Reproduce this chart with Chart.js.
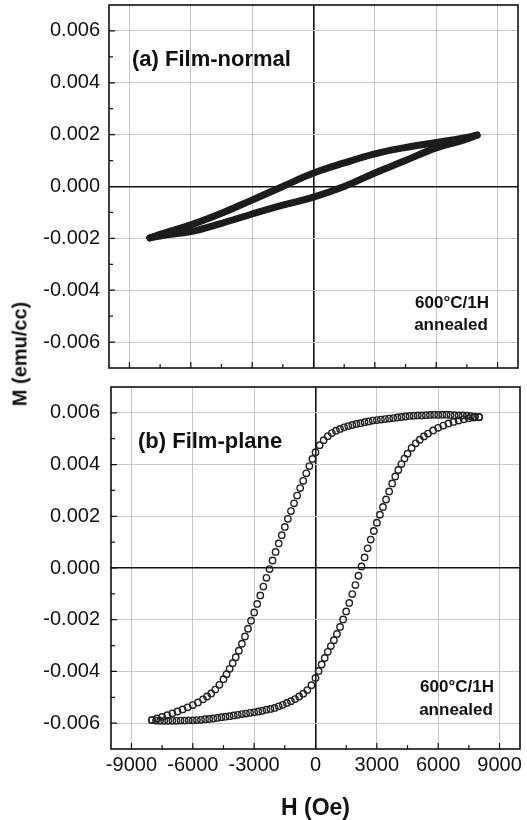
<!DOCTYPE html>
<html>
<head>
<meta charset="utf-8">
<script src="https://cdn.jsdelivr.net/npm/chart.js@4.4.0/dist/chart.umd.min.js"></script>
<style>
  body { margin: 0; background: #fff; }
  #wrap { position: relative; width: 527px; height: 820px; overflow: hidden; }
  .panel { position: absolute; left: 0; }
  #ytitle {
    position: absolute; left: 20px; top: 354px;
    transform: translate(-50%, -50%) rotate(-90deg);
    font: bold 20px 'Liberation Sans', Arial, sans-serif; color: #111; white-space: nowrap;
  }
</style>
</head>
<body>
<div id="wrap">
  <canvas id="normal" class="panel" style="top:0" width="527" height="380"></canvas>
  <canvas id="plane" class="panel" style="top:380px" width="527" height="440"></canvas>
  <div id="ytitle">M (emu/cc)</div>
</div>
<script>
// tick labels
var xTicks = [-9000, -6000, -3000, 0, 3000, 6000, 9000];
var yTicks = [-0.006, -0.004, -0.002, 0, 0.002, 0.004, 0.006];

// (a) film-normal loop, field going down then coming back up
var normDownH = [8000, 7300, 6000, 4400, 3000, 1500, 0, -1500, -3000, -4500, -6000, -7300, -8000];
var normDownM = [0.00198, 0.00186, 0.0017, 0.00149, 0.00126, 0.00091, 0.00052, 0.0, -0.00052, -0.00103, -0.00148, -0.0018, -0.00198];
var normUpH = [-8000, -7300, -6000, -4500, -3000, -1500, 0, 1500, 3000, 4400, 6000, 7300, 8000];
var normUpM = [-0.00198, -0.00188, -0.00174, -0.00142, -0.00106, -0.00072, -0.00041, 0.0, 0.00052, 0.00097, 0.00149, 0.00178, 0.00198];

// (b) film-plane loop
var planeDownH = [8000, 7800, 7600, 7400, 7200, 7000, 6800, 6600, 6400, 6200, 6000, 5800, 5600, 5400, 5200, 5000, 4800, 4600, 4400, 4200,
  4000, 3800, 3600, 3400, 3200, 3000, 2800, 2600, 2400, 2200, 2000, 1800, 1600, 1400, 1200, 1000, 800, 600, 400, 200, 0,
  -150, -300, -450, -600, -750, -900, -1050, -1200, -1350, -1500, -1650, -1800, -1950, -2100, -2250, -2400, -2550, -2700, -2850, -3000,
  -3150, -3300, -3450, -3600, -3750, -3900, -4050, -4200, -4350, -4500, -4700, -4900, -5100, -5300, -5500,
  -5750, -6000, -6250, -6500, -6750, -7000, -7250, -7500, -7750, -8000];
var planeDownM = [0.00583, 0.00585, 0.00587, 0.00589, 0.0059, 0.0059, 0.00591, 0.00592, 0.00593, 0.00593, 0.00592, 0.00593, 0.00592, 0.00591, 0.0059, 0.0059, 0.00589, 0.00588, 0.00586, 0.00584,
  0.00582, 0.0058, 0.00578, 0.00576, 0.00574, 0.00572, 0.0057, 0.00567, 0.00564, 0.0056, 0.00557, 0.00553, 0.00549, 0.00544, 0.00538, 0.00531, 0.00522, 0.0051, 0.00494, 0.00475, 0.00448,
  0.00422, 0.00394, 0.00366, 0.00337, 0.00309, 0.0028, 0.0025, 0.0022, 0.0019, 0.00159, 0.00127, 0.00095, 0.00062, 0.00029, -0.00004, -0.00038, -0.00072, -0.00106, -0.00139, -0.00172,
  -0.00204, -0.00235, -0.00265, -0.00293, -0.0032, -0.00345, -0.00368, -0.0039, -0.00411, -0.0043, -0.00452, -0.0047, -0.00485, -0.00497, -0.00508,
  -0.0052, -0.0053, -0.00539, -0.00547, -0.00555, -0.00562, -0.00569, -0.00576, -0.00582, -0.00588];
var planeUpH = [-8000, -7800, -7600, -7400, -7200, -7000, -6800, -6600, -6400, -6200, -6000, -5800, -5600, -5400, -5200, -5000, -4800, -4600, -4400, -4200,
  -4000, -3800, -3600, -3400, -3200, -3000, -2800, -2600, -2400, -2200, -2000, -1800, -1600, -1400, -1200, -1000, -800, -600, -400, -200, 0,
  150, 300, 450, 600, 750, 900, 1050, 1200, 1350, 1500, 1650, 1800, 1950, 2100, 2250, 2400, 2550, 2700, 2850, 3000,
  3150, 3300, 3450, 3600, 3750, 3900, 4050, 4200, 4350, 4500, 4700, 4900, 5100, 5300, 5500,
  5750, 6000, 6250, 6500, 6750, 7000, 7250, 7500, 7750, 8000];
var planeUpM = [-0.00588, -0.0059, -0.00591, -0.00591, -0.00591, -0.00591, -0.00591, -0.0059, -0.0059, -0.00589, -0.00589, -0.00588, -0.00587, -0.00585, -0.00584, -0.00582, -0.0058, -0.00577, -0.00575, -0.00573,
  -0.0057, -0.00568, -0.00565, -0.00563, -0.0056, -0.00558, -0.00555, -0.00552, -0.00548, -0.00545, -0.00541, -0.00535, -0.00529, -0.00522, -0.00515, -0.00507, -0.00497, -0.00486, -0.00472, -0.00453, -0.00425,
  -0.00398, -0.00373, -0.00348, -0.00324, -0.00302, -0.00279, -0.00255, -0.00228, -0.00199, -0.00168, -0.00135, -0.00101, -0.00066, -0.0003, 0.00006, 0.00041, 0.00076, 0.0011, 0.00143, 0.00175,
  0.00206, 0.00236, 0.00265, 0.00296, 0.00327, 0.00354, 0.00379, 0.00402, 0.00423, 0.00442, 0.00464, 0.00482, 0.00496, 0.00509, 0.0052,
  0.00532, 0.00542, 0.00551, 0.00559, 0.00565, 0.0057, 0.00575, 0.00579, 0.00582, 0.00584];

var FONT = "'Liberation Sans', Arial, sans-serif";
Chart.defaults.font.family = FONT;
Chart.defaults.color = '#111';

function pts(hs, ms) {
  return hs.map(function(h, i) { return { x: h, y: ms[i] }; });
}

function isZero(ctx) {
  return ctx.tick && Math.abs(ctx.tick.value) < 1e-9;
}

// frame, inward minor/major ticks and panel captions
var panelDeco = {
  id: 'panelDeco',
  afterDraw: function(chart, args, opts) {
    var ctx = chart.ctx, a = chart.chartArea;
    var xs = chart.scales.x, ys = chart.scales.y;
    ctx.save();
    ctx.strokeStyle = '#111';
    ctx.lineWidth = 1.6;
    ctx.strokeRect(a.left, a.top, a.right - a.left, a.bottom - a.top);

    ctx.lineWidth = 1.2;
    ctx.beginPath();
    xTicks.forEach(function(v, i) {
      var px = xs.getPixelForValue(v);
      ctx.moveTo(px, a.bottom); ctx.lineTo(px, a.bottom - 6);
      if (i > 0) {
        var m = xs.getPixelForValue((v + xTicks[i - 1]) / 2);
        ctx.moveTo(m, a.bottom); ctx.lineTo(m, a.bottom - 4);
      }
    });
    yTicks.forEach(function(v, i) {
      var py = ys.getPixelForValue(v);
      ctx.moveTo(a.left, py); ctx.lineTo(a.left + 6, py);
      if (i > 0) {
        var m = ys.getPixelForValue((v + yTicks[i - 1]) / 2);
        ctx.moveTo(a.left, m); ctx.lineTo(a.left + 4, m);
      }
    });
    ctx.stroke();

    ctx.fillStyle = '#111';
    ctx.textBaseline = 'middle';
    (opts.texts || []).forEach(function(t) {
      ctx.font = t.font;
      ctx.textAlign = t.align;
      ctx.fillText(t.text, a.left + t.dx, a.top + t.dy);
    });
    ctx.restore();
  }
};

function gridOpts() {
  return {
    color: function(ctx) { return isZero(ctx) ? '#111' : '#c8c8c8'; },
    lineWidth: function(ctx) { return isZero(ctx) ? 1.6 : 1; },
    drawTicks: false
  };
}

function noOverhang(s) {
  s.paddingTop = 0; s.paddingBottom = 0; s.paddingLeft = 0; s.paddingRight = 0;
}

function makePanel(id, sets, cfg) {
  return new Chart(document.getElementById(id), {
    type: 'scatter',
    data: { datasets: sets },
    options: {
      responsive: false,
      animation: false,
      layout: { padding: cfg.padding },
      plugins: {
        legend: { display: false },
        tooltip: { enabled: false },
        panelDeco: { texts: cfg.texts }
      },
      scales: {
        x: {
          type: 'linear', min: -10000, max: 10000,
          afterBuildTicks: function(s) { s.ticks = xTicks.map(function(v) { return { value: v }; }); },
          ticks: {
            display: cfg.xLabels,
            font: { size: 20 }, padding: 4, color: '#111',
            callback: function(v) { return String(v); }
          },
          grid: gridOpts(),
          border: { display: false },
          title: {
            display: cfg.xLabels, text: 'H (Oe)', color: '#111',
            font: { size: 23, weight: 'bold', lineHeight: 1 }, padding: 0
          },
          afterFit: function(s) { s.height = cfg.xHeight; noOverhang(s); }
        },
        y: {
          type: 'linear', min: -0.007, max: 0.007,
          afterBuildTicks: function(s) { s.ticks = yTicks.map(function(v) { return { value: v }; }); },
          ticks: {
            font: { size: 20 }, padding: cfg.yPad, color: '#111',
            callback: function(v) { return (Math.abs(v) < 1e-9 ? 0 : v).toFixed(3); }
          },
          grid: gridOpts(),
          border: { display: false },
          afterFit: function(s) { s.width = cfg.yWidth; noOverhang(s); }
        }
      }
    },
    plugins: [panelDeco]
  });
}

var thick = { showLine: true, borderColor: '#1c1c1c', borderWidth: 7, pointRadius: 0, tension: 0.4, borderCapStyle: 'round' };
var rings = { showLine: false, pointRadius: 3.2, pointBorderWidth: 1.4, pointBorderColor: '#222', pointBackgroundColor: 'rgba(0,0,0,0)' };

makePanel('normal', [
  Object.assign({ data: pts(normDownH, normDownM) }, thick),
  Object.assign({ data: pts(normUpH, normUpM) }, thick)
], {
  padding: { top: 5, right: 9, bottom: 12, left: 0 },
  xLabels: false, xHeight: 0, yWidth: 109, yPad: 9,
  texts: [
    { text: '(a) Film-normal', dx: 23, dy: 55, align: 'left', font: 'bold 22px ' + FONT },
    { text: '600\u00B0C/1H', dx: 343, dy: 298, align: 'center', font: 'bold 17px ' + FONT },
    { text: 'annealed', dx: 342, dy: 320, align: 'center', font: 'bold 17px ' + FONT }
  ]
});

makePanel('plane', [
  Object.assign({ data: pts(planeDownH, planeDownM) }, rings),
  Object.assign({ data: pts(planeUpH, planeUpM) }, rings)
], {
  padding: { top: 7, right: 7, bottom: 0, left: 0 },
  xLabels: true, xHeight: 71, yWidth: 111, yPad: 11,
  texts: [
    { text: '(b) Film-plane', dx: 27, dy: 55, align: 'left', font: 'bold 22px ' + FONT },
    { text: '600\u00B0C/1H', dx: 346, dy: 300, align: 'center', font: 'bold 17px ' + FONT },
    { text: 'annealed', dx: 345, dy: 323, align: 'center', font: 'bold 17px ' + FONT }
  ]
});
</script>
</body>
</html>
